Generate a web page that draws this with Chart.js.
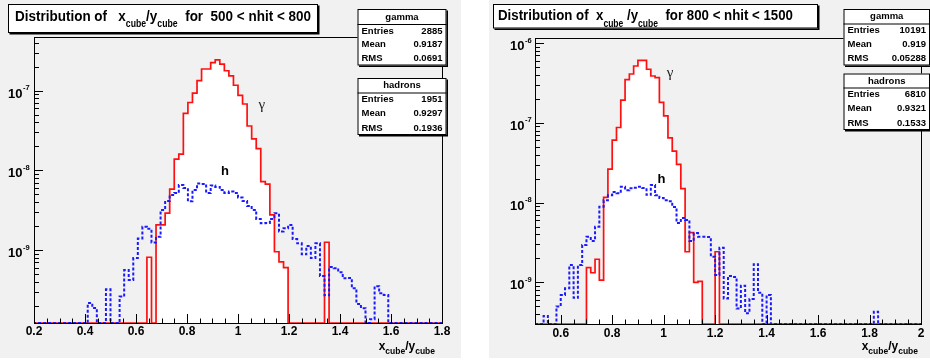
<!DOCTYPE html>
<html>
<head>
<meta charset="utf-8">
<script src="https://cdn.jsdelivr.net/npm/chart.js@4.4.1/dist/chart.umd.min.js"></script>
<style>
body { margin: 0; background: #fff; width: 930px; height: 360px; position: relative; overflow: hidden; }
canvas { position: absolute; top: 0; }
#left { left: 0; }
#right { left: 489px; }
</style>
</head>
<body>
<canvas id="left" width="461" height="358"></canvas>
<canvas id="right" width="441" height="358"></canvas>
<script>
// binning of the two histogram sets
var leftBinLow = 11 / 56, leftBinWidth = 1 / 56;
var rightBinLow = 30 / 60, rightBinWidth = 1 / 60;

// 500 < nhit < 800, bins k = 11..100
var leftGamma = [
  0, 0, 0, 0, 0, 0, 0, 0, 0, 0,
  0, 0, 0, 0, 0, 0, 0, 0, 0, 0,
  0, 0, 0, 0, 0, 8.1e-10, 0, 2.06e-9, 2.06e-9, 2.9e-9,
  5.8e-9, 1.38e-8, 1.6e-8, 5.2e-8, 7.1e-8, 9.3e-8, 1.34e-7, 1.87e-7, 1.87e-7, 2.25e-7,
  2.43e-7, 2.16e-7, 1.78e-7, 1.53e-7, 1.17e-7, 8.75e-8, 6.8e-8, 3.6e-8, 2.48e-8, 1.87e-8,
  7.2e-9, 6.7e-9, 2.75e-9, 9.5e-10, 7.1e-10, 6.0e-10, 0, 0, 0, 0,
  0, 0, 0, 0, 1.25e-9, 0, 0, 0, 0, 0,
  0, 0, 0, 0, 0, 0, 0, 0, 0, 0,
  0, 0, 0, 0, 0, 0, 0, 0, 0, 0
];
var leftHadrons = [
  0, 0, 0, 0, 0, 0, 0, 0, 0, 0,
  0, 0, 2.16e-10, 1.87e-10, 0, 0, 3.2e-10, 0, 0, 2.6e-10,
  5.6e-10, 4.2e-10, 7.9e-10, 1.39e-9, 1.96e-9, 1.84e-9, 1.24e-9, 1.47e-9, 3.18e-9, 4.12e-9,
  4.9e-9, 5.2e-9, 6.55e-9, 6.0e-9, 4.1e-9, 5.66e-9, 6.84e-9, 6.74e-9, 5.2e-9, 6.46e-9,
  6.18e-9, 5.66e-9, 5.2e-9, 5.42e-9, 5.2e-9, 4.56e-9, 4.12e-9, 3.57e-9, 3.18e-9, 2.45e-9,
  2.16e-9, 2.18e-9, 2.45e-9, 2.89e-9, 1.7e-9, 1.87e-9, 2.06e-9, 1.37e-9, 1.21e-9, 8.8e-10,
  1.12e-9, 7.9e-10, 1.21e-9, 4.7e-10, 2.7e-10, 6.1e-10, 5.9e-10, 5.25e-10, 4.4e-10, 4.45e-10,
  3.3e-10, 2.1e-10, 1.85e-10, 0, 1.35e-10, 3.5e-10, 2.86e-10, 2.72e-10, 0, 0,
  0, 0, 0, 0, 0, 0, 0, 0, 0, 0
];

// 800 < nhit < 1500, bins k = 30..119
var rightGamma = [
  0, 0, 0, 0, 0, 0, 0, 0, 0, 0,
  0, 0, 1.53e-9, 1.32e-9, 1.95e-9, 1.07e-9, 1.16e-8, 2.63e-8, 6.05e-8, 8.73e-8,
  1.92e-7, 3.48e-7, 4.09e-7, 5.15e-7, 6.07e-7, 6.07e-7, 4.69e-7, 3.86e-7, 3.69e-7, 1.8e-7,
  1.22e-7, 6.47e-8, 4.41e-8, 3.01e-8, 1.5e-8, 2.42e-9, 4.21e-9, 1.0e-9, 1.03e-9, 0,
  0, 0, 2.42e-9, 0, 0, 0, 0, 0, 0, 0,
  0, 0, 0, 0, 0, 0, 0, 0, 0, 0,
  0, 0, 0, 0, 0, 0, 0, 0, 0, 0,
  0, 0, 0, 0, 0, 0, 0, 0, 0, 0,
  0, 0, 0, 0, 0, 0, 0, 0, 0, 0
];
var rightHadrons = [
  0, 0, 3.8e-10, 0, 0, 5.0e-10, 6.95e-10, 8.44e-10, 1.65e-9, 6.4e-10,
  1.65e-9, 2.94e-9, 3.73e-9, 3.3e-9, 4.98e-9, 8.86e-9, 1.07e-8, 1.24e-8, 1.36e-8, 1.31e-8,
  1.58e-8, 1.43e-8, 1.51e-8, 1.54e-8, 1.58e-8, 1.52e-8, 1.25e-8, 1.66e-8, 1.24e-8, 1.14e-8,
  1.07e-8, 1.04e-8, 8.8e-9, 5.54e-9, 6.4e-9, 6.04e-9, 3.3e-9, 4.15e-9, 3.73e-9, 3.73e-9,
  3.7e-9, 2.1e-9, 1.24e-9, 2.72e-9, 6.3e-10, 1.2e-9, 1.17e-9, 4.7e-10, 9.1e-10, 4.1e-10,
  6.2e-10, 1.69e-9, 7.4e-10, 0, 6.95e-10, 0, 0, 0, 0, 0,
  0, 0, 0, 0, 0, 0, 0, 0, 0, 0,
  0, 0, 0, 0, 0, 0, 0, 0, 0, 4.3e-10,
  0, 0, 0, 0, 0, 0, 0, 0, 0, 0
];

var leftXLabels = [0.2, 0.4, 0.6, 0.8, 1, 1.2, 1.4, 1.6, 1.8];
var rightXLabels = [0.6, 0.8, 1, 1.2, 1.4, 1.6, 1.8, 2];
var leftYDecades = [-9, -8, -7];
var rightYDecades = [-9, -8, -7, -6];

var leftTitle = [['Distribution of   x', 0], ['cube', 1], ['/y', 0], ['cube', 1], ['  for  500 < nhit < 800', 0]];
var rightTitle = [['Distribution of  x', 0], ['cube', 1], [' /y', 0], ['cube', 1], ['  for 800 < nhit < 1500', 0]];
var axisTitle = [['x', 0], ['cube', 1], ['/y', 0], ['cube', 1]];

var statNames = ['Entries', 'Mean', 'RMS'];
var leftGammaStats = ['2885', '0.9187', '0.0691'];
var leftHadronStats = ['1951', '0.9297', '0.1936'];
var rightGammaStats = ['10191', '0.919', '0.05288'];
var rightHadronStats = ['6810', '0.9321', '0.1533'];

var FONT = "'Liberation Sans', Arial, Helvetica, sans-serif";

function histPoints(vals, low, width, floor) {
    var pts = [];
    for (var i = 0; i < vals.length; i++)
        pts.push({x: low + i * width, y: Math.max(vals[i], floor)});
    pts.push({x: low + vals.length * width, y: Math.max(vals[vals.length - 1], floor)});
    return pts;
}

function piecesWidth(ctx, pieces, size, sub) {
    var w = 0;
    for (var i = 0; i < pieces.length; i++) {
        ctx.font = 'bold ' + (pieces[i][1] ? sub : size) + 'px ' + FONT;
        w += ctx.measureText(pieces[i][0]).width;
    }
    return w;
}

function drawPieces(ctx, pieces, x, y, size, sub, dy) {
    ctx.textAlign = 'left';
    ctx.textBaseline = 'middle';
    for (var i = 0; i < pieces.length; i++) {
        ctx.font = 'bold ' + (pieces[i][1] ? sub : size) + 'px ' + FONT;
        ctx.fillText(pieces[i][0], x, pieces[i][1] ? y + dy : y);
        x += ctx.measureText(pieces[i][0]).width;
    }
}

function paveBox(ctx, x, y, w, h) {
    ctx.fillStyle = '#000';
    ctx.fillRect(x + 1.5, y + 1.5, w, h);
    ctx.fillStyle = '#fff';
    ctx.fillRect(x, y, w, h);
    ctx.strokeStyle = '#000';
    ctx.lineWidth = 1;
    ctx.strokeRect(x + 0.5, y + 0.5, w - 1, h - 1);
}

function drawStats(ctx, b, name, values) {
    paveBox(ctx, b[0], b[1], b[2], b[3]);
    var head = b[4], row = (b[3] - head) / 3;
    ctx.beginPath();
    ctx.moveTo(b[0], b[1] + head + 0.5);
    ctx.lineTo(b[0] + b[2], b[1] + head + 0.5);
    ctx.stroke();
    ctx.fillStyle = '#000';
    ctx.font = 'bold 9.5px ' + FONT;
    ctx.textBaseline = 'middle';
    ctx.textAlign = 'center';
    ctx.fillText(name, b[0] + b[2] / 2, b[1] + head / 2 + 0.5);
    for (var i = 0; i < 3; i++) {
        var yy = b[1] + head + row * (i + 0.5);
        ctx.textAlign = 'left';
        ctx.fillText(statNames[i], b[0] + 4, yy);
        ctx.textAlign = 'right';
        ctx.fillText(values[i], b[0] + b[2] - 4, yy);
    }
}

var rootPad = {
    id: 'rootPad',
    beforeDraw: function (chart) {
        var ctx = chart.ctx;
        ctx.save();
        ctx.fillStyle = '#f1f1f1';
        ctx.fillRect(0, 0, chart.width, chart.height);
        ctx.restore();
    },
    beforeDatasetsDraw: function (chart) {
        var ctx = chart.ctx, a = chart.chartArea;
        ctx.save();
        ctx.strokeStyle = '#000';
        ctx.lineWidth = 1;
        ctx.strokeRect(Math.round(a.left) + 0.5, Math.round(a.top) + 0.5,
            Math.round(a.right - a.left), Math.round(a.bottom - a.top));
        ctx.restore();
    },
    afterDatasetsDraw: function (chart, args, o) {
        var ctx = chart.ctx, a = chart.chartArea, xs = chart.scales.x, ys = chart.scales.y;
        var i, v, px, py;
        ctx.save();
        ctx.strokeStyle = '#000';
        ctx.lineWidth = 1;

        // x ticks, pointing into the frame
        ctx.beginPath();
        for (i = Math.ceil(xs.min / o.xStep - 1e-6); i * o.xStep <= xs.max + 1e-9; i++) {
            v = i * o.xStep;
            px = Math.round(xs.getPixelForValue(v)) + 0.5;
            var r = v / o.xMajor;
            ctx.moveTo(px, a.bottom);
            ctx.lineTo(px, a.bottom - (Math.abs(r - Math.round(r)) < 1e-6 ? 9 : 4.5));
        }
        // y ticks on the log axis
        var d0 = Math.floor(Math.log10(ys.min)), d1 = Math.ceil(Math.log10(ys.max));
        for (var d = d0; d <= d1; d++) {
            for (var m = 1; m < 10; m++) {
                v = m * Math.pow(10, d);
                if (v < ys.min || v > ys.max) continue;
                py = Math.round(ys.getPixelForValue(v)) + 0.5;
                ctx.moveTo(a.left, py);
                ctx.lineTo(a.left + (m === 1 ? 9 : 5), py);
            }
        }
        ctx.stroke();

        // tick labels
        ctx.fillStyle = '#000';
        ctx.font = 'bold 12px ' + FONT;
        ctx.textAlign = 'center';
        ctx.textBaseline = 'middle';
        o.xLabels.forEach(function (t) {
            ctx.fillText(String(t), xs.getPixelForValue(t), a.bottom + o.xLabelDy);
        });
        o.yDecades.forEach(function (e) {
            py = ys.getPixelForValue(Math.pow(10, e));
            ctx.font = 'bold 13px ' + FONT;
            ctx.textAlign = 'right';
            ctx.fillText('10', a.left - o.yLabelGap, py + 3.5);
            ctx.font = 'bold 7.5px ' + FONT;
            ctx.textAlign = 'left';
            ctx.fillText(String(e), a.left - o.yLabelGap + 0.5, py - 2.5);
        });

        // axis title, right aligned
        var aw = piecesWidth(ctx, axisTitle, 12, 8.5);
        drawPieces(ctx, axisTitle, a.right - o.axisTitleGap - aw, a.bottom + o.axisTitleDy, 12, 8.5, 5);

        // curve labels
        ctx.fillStyle = '#222';
        ctx.textAlign = 'center';
        ctx.font = '15px "Liberation Serif", "DejaVu Serif", serif';
        ctx.fillText('\u03b3', xs.getPixelForValue(o.gammaAt[0]), ys.getPixelForValue(o.gammaAt[1]));
        ctx.fillStyle = '#000';
        ctx.font = 'bold 13px ' + FONT;
        ctx.fillText('h', xs.getPixelForValue(o.hAt[0]), ys.getPixelForValue(o.hAt[1]));

        // title pave: tall glyphs squeezed to the measured width
        var tb = o.titleBox;
        paveBox(ctx, tb[0], tb[1], tb[2], tb[3]);
        ctx.fillStyle = '#000';
        var tw = piecesWidth(ctx, o.title, 15.5, 10);
        ctx.save();
        ctx.translate(o.titleX, 0);
        ctx.scale(o.titleWidth / tw, 1);
        drawPieces(ctx, o.title, 0, o.titleY, 15.5, 10, o.titleSubDy);
        ctx.restore();

        // statistics paves
        drawStats(ctx, o.gammaBox, 'gamma', o.gammaStats);
        drawStats(ctx, o.hadronBox, 'hadrons', o.hadronStats);
        ctx.restore();
    }
};

function makePad(id, cfg) {
    var ctx = document.getElementById(id).getContext('2d');
    return new Chart(ctx, {
        type: 'line',
        data: {
            datasets: [{
                label: 'hadrons',
                data: histPoints(cfg.hadrons, cfg.low, cfg.width, cfg.ymin),
                stepped: true,
                borderColor: '#1a1aff',
                borderWidth: 2,
                borderDash: [3, 2],
                pointRadius: 0,
                fill: false
            }, {
                label: 'gamma',
                data: histPoints(cfg.gamma, cfg.low, cfg.width, cfg.ymin),
                stepped: true,
                borderColor: '#ff1010',
                borderWidth: 1.7,
                pointRadius: 0,
                fill: 'start',
                backgroundColor: '#ffffff'
            }]
        },
        options: {
            responsive: false,
            animation: false,
            devicePixelRatio: 1,
            layout: {padding: cfg.padding},
            plugins: {
                legend: {display: false},
                tooltip: {enabled: false},
                rootPad: cfg.pad
            },
            scales: {
                x: {type: 'linear', min: cfg.xmin, max: cfg.xmax, display: false},
                y: {type: 'logarithmic', min: cfg.ymin, max: cfg.ymax, display: false}
            }
        },
        plugins: [rootPad]
    });
}

makePad('left', {
    gamma: leftGamma, hadrons: leftHadrons, low: leftBinLow, width: leftBinWidth,
    xmin: 0.2, xmax: 1.8, ymin: 1.21e-10, ymax: 4.72e-7,
    padding: {left: 34, top: 37, right: 19, bottom: 35},
    pad: {
        xStep: 0.05, xMajor: 0.2, xLabels: leftXLabels, xLabelDy: 9,
        yDecades: leftYDecades, yLabelGap: 11.5,
        axisTitleGap: 7, axisTitleDy: 24,
        gammaAt: [1.093, 6.6e-8], hAt: [0.949, 9.6e-9],
        titleBox: [8, 4, 310, 29], title: leftTitle, titleX: 15, titleY: 16.7, titleWidth: 296, titleSubDy: 7.5,
        gammaBox: [357.5, 9, 89, 56.5, 15], gammaStats: leftGammaStats,
        hadronBox: [357.5, 78, 89, 57, 14.5], hadronStats: leftHadronStats
    }
});

makePad('right', {
    gamma: rightGamma, hadrons: rightHadrons, low: rightBinLow, width: rightBinWidth,
    xmin: 0.5, xmax: 2.0, ymin: 3.01e-10, ymax: 1.155e-6,
    padding: {left: 46, top: 38, right: 9, bottom: 34},
    pad: {
        xStep: 0.05, xMajor: 0.2, xLabels: rightXLabels, xLabelDy: 9.3,
        yDecades: rightYDecades, yLabelGap: 10.5,
        axisTitleGap: 3, axisTitleDy: 23,
        gammaAt: [1.0247, 4.14e-7], hAt: [0.9916, 1.97e-8],
        titleBox: [4, 4, 325, 24.5], title: rightTitle, titleX: 9, titleY: 16.2, titleWidth: 295, titleSubDy: 8,
        gammaBox: [354.5, 9, 86.5, 56.5, 14.5], gammaStats: rightGammaStats,
        hadronBox: [354.5, 73.5, 86.5, 56.5, 14], hadronStats: rightHadronStats
    }
});
</script>
</body>
</html>
